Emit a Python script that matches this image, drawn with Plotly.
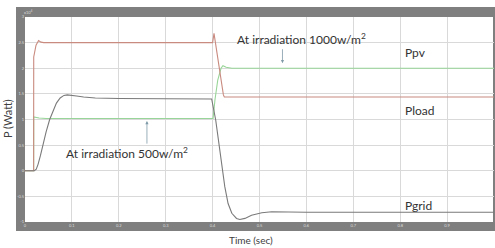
import plotly.graph_objects as go

# ---- data (x10^4 W) ----
t_ppv = [0, 0.0184, 0.0186, 0.022, 0.03, 0.045, 0.1, 0.2, 0.3, 0.401, 0.405, 0.411, 0.418, 0.422, 0.429, 0.441, 0.5, 0.7, 1.0]
ppv = [0, 0, 1.05, 1.04, 1.03, 1.02, 1.02, 1.02, 1.02, 1.02, 1.38, 1.77, 2.0, 2.05, 2.02, 2.0, 2.0, 2.0, 2.0]

t_pload = [0, 0.0184, 0.0186, 0.0203, 0.0235, 0.029, 0.034, 0.04, 0.2, 0.4, 0.403, 0.409, 0.416, 0.423, 0.425, 0.6, 1.0]
pload = [0, 0, 2.22, 2.32, 2.45, 2.54, 2.51, 2.5, 2.5, 2.5, 2.68, 2.29, 1.84, 1.48, 1.44, 1.44, 1.44]

t_pgrid = [0, 0.02, 0.024, 0.028, 0.033, 0.038, 0.045, 0.0526, 0.06, 0.067, 0.075, 0.083, 0.09, 0.1, 0.11,
           0.125, 0.15, 0.2, 0.3, 0.398, 0.4066, 0.412, 0.419, 0.426, 0.433, 0.441, 0.451, 0.458, 0.469,
           0.483, 0.505, 0.526, 0.6, 1.0]
pgrid = [0, 0, 0.03, 0.13, 0.3, 0.5, 0.76, 1.0, 1.18, 1.32, 1.42, 1.47, 1.48, 1.475, 1.46,
         1.44, 1.42, 1.41, 1.40, 1.40, 0.99, 0.60, 0.145, -0.31, -0.64, -0.83, -0.93, -0.95, -0.93,
         -0.87, -0.82, -0.80, -0.81, -0.81]

x_ticks = [0, 0.1, 0.2, 0.3, 0.4, 0.5, 0.6, 0.7, 0.8, 0.9, 1]
x_tick_labels = ["0", "0.1", "0.2", "0.3", "0.4", "0.5", "0.6", "0.7", "0.8", "0.9", "1"]
y_ticks = [-1, -0.5, 0, 0.5, 1, 1.5, 2, 2.5, 3]
y_tick_labels = ["-1", "-0.5", "0", "0.5", "1", "1.5", "2", "2.5", "3"]

FONT = "Lato"
fig = go.Figure()
fig.add_trace(go.Scatter(x=t_ppv, y=ppv, mode="lines", line=dict(color="#98d598", width=1.1), showlegend=False))
fig.add_trace(go.Scatter(x=t_pload, y=pload, mode="lines", line=dict(color="#c98a7f", width=1.1), showlegend=False))
fig.add_trace(go.Scatter(x=t_pgrid, y=pgrid, mode="lines", line=dict(color="#7a7a7a", width=1.1), showlegend=False))

W, H = 495, 248
L, R, T, B = 25, 1, 17, 26
pw, ph = W - L - R, H - T - B

def px(x):
    return (x - L) / pw

def py(y):
    return (H - B - y) / ph

shapes = [
    # gray scope frame
    dict(type="rect", xref="paper", yref="paper", x0=px(16), x1=px(495), y0=py(231), y1=py(7),
         fillcolor="#7f7f7f", line=dict(width=0), layer="below"),
    # white plotting area
    dict(type="rect", xref="paper", yref="paper", x0=0, x1=px(493), y0=0, y1=1,
         fillcolor="white", line=dict(width=0), layer="below"),
]

txt = dict(family=FONT, size=12, color="#333333")
annotations = [
    dict(text="At irradiation 1000w/m<sup>2</sup>", x=0.59, y=2.57, xref="x", yref="y",
         showarrow=False, font=txt),
    dict(text="", x=0.549, y=2.10, ax=0.549, ay=2.40, xref="x", yref="y", axref="x", ayref="y",
         showarrow=True, arrowhead=2, arrowsize=0.8, arrowwidth=0.8, arrowcolor="#7f9aa8"),
    dict(text="At irradiation 500w/m<sup>2</sup>", x=0.218, y=0.345, xref="x", yref="y",
         showarrow=False, font=txt),
    dict(text="", x=0.26, y=0.97, ax=0.26, ay=0.50, xref="x", yref="y", axref="x", ayref="y",
         showarrow=True, arrowhead=2, arrowsize=0.8, arrowwidth=0.8, arrowcolor="#7f9aa8"),
    dict(text="Ppv", x=0.805, y=2.30, xref="x", yref="y", xanchor="left",
         showarrow=False, font=txt),
    dict(text="Pload", x=0.805, y=1.18, xref="x", yref="y", xanchor="left",
         showarrow=False, font=txt),
    dict(text="Pgrid", x=0.805, y=-0.67, xref="x", yref="y", xanchor="left",
         showarrow=False, font=txt),
    dict(text="P (Watt)", x=px(7), y=py(119), xref="paper", yref="paper", textangle=-90,
         xanchor="center", yanchor="middle",
         showarrow=False, font=dict(family=FONT, size=11, color="#404040")),
    dict(text="Time (sec)", x=px(251), y=py(240), xref="paper", yref="paper",
         xanchor="center", yanchor="middle",
         showarrow=False, font=dict(family=FONT, size=10, color="#404040")),
    dict(text="x10<sup>4</sup>", x=px(22), y=py(12), xref="paper", yref="paper",
         xanchor="left", yanchor="middle",
         showarrow=False, font=dict(family=FONT, size=4, color="#dddddd")),
]

fig.update_layout(
    width=W, height=H,
    margin=dict(l=L, r=R, t=T, b=B, pad=0),
    paper_bgcolor="white",
    plot_bgcolor="rgba(0,0,0,0)",
    shapes=shapes,
    annotations=annotations,
    xaxis=dict(range=[0, 1], tickvals=x_ticks, ticktext=x_tick_labels, showgrid=True,
               gridcolor="#d9d9d9", gridwidth=1, zeroline=False, showline=False,
               ticks="", tickfont=dict(family=FONT, size=4, color="#dddddd")),
    yaxis=dict(range=[-1, 3], tickvals=y_ticks, ticktext=y_tick_labels, showgrid=True,
               gridcolor="#d9d9d9", gridwidth=1, zeroline=False, showline=False,
               ticks="", tickfont=dict(family=FONT, size=4, color="#dddddd")),
)

fig.write_html("out.html", config={"displayModeBar": False},
               post_script="document.body.style.margin='0';")
